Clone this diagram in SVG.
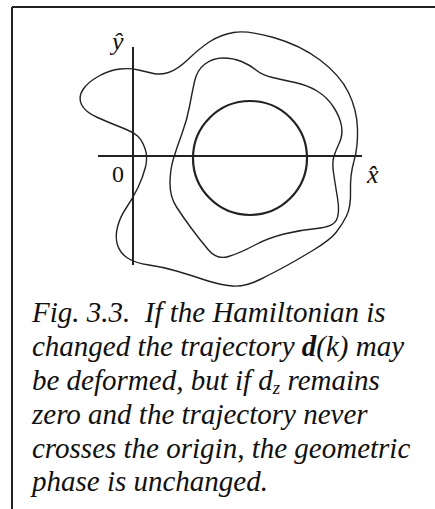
<svg xmlns="http://www.w3.org/2000/svg" width="435" height="509" viewBox="0 0 435 509">
<style>
.frame{stroke:#222;stroke-width:2;fill:none}
.axis{stroke:#222;stroke-width:2;fill:none}
.curve{stroke:#222;stroke-width:1.4;fill:none;stroke-linejoin:round}
.circ{stroke:#222;stroke-width:2.2;fill:none}
.lbl{font-family:"Liberation Serif","Times New Roman",serif;font-style:italic;font-size:26px;fill:#111}
.num{font-family:"Liberation Serif","Times New Roman",serif;font-size:24px;fill:#111}
.cap{font-family:"Liberation Serif","Times New Roman",serif;font-style:italic;font-size:29px;fill:#111;white-space:pre}
</style>
<rect width="435" height="509" fill="#fff"/>
<g id="frame">
<line class="frame" x1="12" y1="7" x2="435" y2="7"/>
<line class="frame" x1="12" y1="7" x2="12" y2="509"/>
</g>
<g id="axes">
<line class="axis" x1="133" y1="47" x2="133" y2="265"/>
<line class="axis" x1="98" y1="156" x2="362" y2="156"/>
<text class="lbl" x="112" y="50">ŷ</text>
<text class="num" x="112" y="182">0</text>
<text class="lbl" x="367" y="183">x̂</text>
</g>
<g id="circle">
<circle class="circ" cx="250" cy="158" r="57"/>
</g>
<g id="inner-trajectory">
<path class="curve" d="M205,64 Q213,58 223,58 Q233,58 241.5,61.5 Q250,65 256,70 Q262,75 272.5,77.5 Q283,80 295,82.5 Q307,85 317,91 Q327,97 333.5,107 Q340,117 341.5,126 Q343,135 339.5,142.5 Q336,150 334,156 Q332,162 333.5,172.5 Q335,183 337.5,198 Q340,213 336.5,220 Q333,227 316.5,228.5 Q300,230 284,234 Q268,238 254,245.5 Q240,253 228.5,256.5 Q217,260 208.5,250 Q200,240 191.5,228.5 Q183,217 176.5,207 Q170,197 170,183.5 Q170,170 173.5,158.5 Q177,147 182,133.5 Q187,120 189.5,106.5 Q192,93 194.5,81.5 Q197,70 205,64 Z"/>
</g>
<g id="outer-trajectory">
<path class="curve" d="M233.5,32.5 Q247,30 273.5,37.5 Q300,45 320,60 Q340,75 348.5,92.5 Q357,110 357.5,128.5 Q358,147 354,161 Q350,175 350.5,191 Q351,207 346.5,216 Q342,225 336,232.5 Q330,240 313.5,250 Q297,260 286,266 Q275,272 260,279.5 Q245,287 232.5,286 Q220,285 205,280 Q190,275 176.5,271 Q163,267 149,265 Q135,263 127.5,258 Q120,253 117.5,245 Q115,237 117.5,227 Q120,217 126.5,207.5 Q133,198 138,187.5 Q143,177 145.5,167 Q148,157 145,148.5 Q142,140 137.5,136 Q133,132 121.5,127.5 Q110,123 97.5,117.5 Q85,112 81.5,104.5 Q78,97 83,89.5 Q88,82 99,76 Q110,70 120,69 Q130,68 138.5,70 Q147,72 153.5,73.5 Q160,75 168.5,72.5 Q177,70 188.5,59 Q200,48 210,41.5 Q220,35 233.5,32.5 Z"/>
</g>
<g id="caption">
<text class="cap" x="32" y="322">Fig. 3.3.  If the Hamiltonian is</text>
<text class="cap" x="32" y="356">changed the trajectory <tspan font-weight="bold">d</tspan>(k) may</text>
<text class="cap" x="32" y="390">be deformed, but if d<tspan font-size="19" dy="4">z</tspan><tspan dy="-4"> remains</tspan></text>
<text class="cap" x="32" y="424">zero and the trajectory never</text>
<text class="cap" x="32" y="458">crosses the origin, the geometric</text>
<text class="cap" x="32" y="491">phase is unchanged.</text>
</g>
</svg>
